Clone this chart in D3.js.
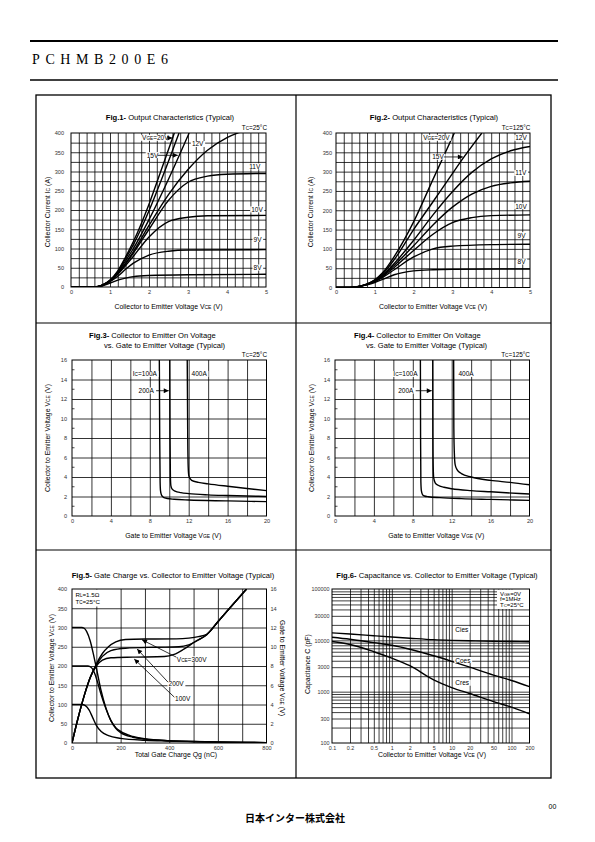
<!DOCTYPE html>
<html><head><meta charset="utf-8">
<script src="https://cdn.jsdelivr.net/npm/d3@7"></script>
<style>
body{margin:0;background:#fff}
svg{display:block}
</style>
</head><body>
<svg id="c" width="595" height="842" font-family="Liberation Sans, Arial, sans-serif"></svg>
<script>
// ---------------- DATA ----------------
// Fig.1 Output characteristics, Tc=25°C  [VCE (V), IC (A)]
const fig1_20V = [[0,0],[0.6,0],[0.8,5],[1.0,18],[1.2,42],[1.4,78],[1.6,118],[2.0,215],[2.3,300],[2.65,400]];
const fig1_18V = [[0,0],[0.6,0],[0.8,5],[1.0,17],[1.2,40],[1.4,74],[1.6,110],[2.0,198],[2.4,300],[2.77,400]];
const fig1_15V = [[0,0],[0.6,0],[0.8,5],[1.0,17],[1.2,38],[1.4,68],[1.6,100],[2.0,175],[2.5,280],[3.03,400]];
const fig1_12V = [[0,0],[0.6,0],[0.8,4],[1.0,16],[1.2,36],[1.4,62],[1.6,92],[2.0,160],[2.5,240],[3.0,305],[3.5,355],[4.0,388],[4.3,401],[5.0,420]];
const fig1_11V = [[0,0],[0.6,0],[0.8,4],[1.0,15],[1.2,35],[1.4,60],[1.6,88],[2.0,150],[2.5,225],[3.0,272],[3.5,288],[4.0,293],[5.0,295]];
const fig1_10V = [[0,0],[0.6,0],[0.8,4],[1.0,15],[1.2,33],[1.4,56],[1.6,80],[2.0,130],[2.5,170],[3.0,181],[3.5,185],[5.0,186]];
const fig1_9V  = [[0,0],[0.6,0],[0.8,4],[1.0,14],[1.2,28],[1.4,46],[1.6,62],[2.0,83],[2.5,93],[3.0,96],[5.0,97]];
const fig1_8V  = [[0,0],[0.6,0],[0.8,3],[1.0,10],[1.2,18],[1.4,23],[1.6,27],[2.0,30],[3.0,32],[5.0,33]];
// Fig.2 Output characteristics, Tc=125°C
const fig2_20V = [[0,0],[0.35,0],[0.6,3],[0.8,9],[1.0,20],[1.2,38],[1.5,80],[2.0,170],[2.5,280],[3.05,400]];
const fig2_15V = [[0,0],[0.35,0],[0.6,3],[0.8,9],[1.0,19],[1.2,35],[1.5,72],[2.0,150],[2.5,222],[3.0,295],[3.3,338],[3.76,400]];
const fig2_12V = [[0,0],[0.35,0],[0.6,3],[0.8,8],[1.0,18],[1.2,32],[1.5,62],[2.0,122],[2.5,188],[3.0,248],[3.5,298],[4.0,333],[4.5,354],[5.0,365]];
const fig2_11V = [[0,0],[0.35,0],[0.6,3],[0.8,8],[1.0,17],[1.2,30],[1.5,57],[2.0,108],[2.5,162],[3.0,208],[3.5,242],[4.0,262],[4.5,271],[5.0,275]];
const fig2_10V = [[0,0],[0.35,0],[0.6,3],[0.8,8],[1.0,16],[1.2,28],[1.5,52],[2.0,96],[2.5,138],[3.0,168],[3.5,181],[4.0,186],[5.0,188]];
const fig2_9V  = [[0,0],[0.35,0],[0.6,3],[0.8,8],[1.0,15],[1.2,26],[1.5,46],[2.0,79],[2.5,100],[3.0,107],[4.0,111],[5.0,112]];
const fig2_8V  = [[0,0],[0.35,0],[0.6,3],[0.8,7],[1.0,13],[1.2,21],[1.5,33],[2.0,43],[2.5,46],[3.0,47],[5.0,48]];
// Fig.3 VCE(sat) vs VGE, Tc=25°C  [VGE (V), VCE (V)]
const fig3_100A = [[8.98,16],[9.02,8],[9.06,3.5],[9.1,2.6],[9.2,2.15],[9.4,1.92],[9.8,1.8],[10.5,1.72],[12,1.64],[16,1.55],[20,1.47]];
const fig3_200A = [[10.05,16],[10.08,8],[10.12,4],[10.17,3.1],[10.3,2.75],[10.6,2.55],[11.2,2.4],[12,2.3],[14,2.17],[16,2.1],[20,2.0]];
const fig3_400A = [[11.85,16],[11.9,8],[11.95,5],[12.02,4.1],[12.3,3.65],[13,3.45],[14,3.3],[16,3.05],[18,2.82],[20,2.6]];
// Fig.4 VCE(sat) vs VGE, Tc=125°C
const fig4_100A = [[8.78,16],[8.8,8],[8.83,3.5],[8.88,2.6],[9.0,2.2],[9.2,2.05],[9.6,1.97],[10.8,1.88],[13,1.78],[16,1.7],[20,1.6]];
const fig4_200A = [[10.05,16],[10.07,8],[10.1,5],[10.15,3.9],[10.3,3.4],[10.6,3.15],[11.2,2.95],[12,2.8],[14,2.6],[16,2.48],[20,2.25]];
const fig4_400A = [[12.2,16],[12.22,9],[12.27,6.5],[12.35,5.3],[12.55,4.75],[13,4.35],[14,4.0],[16,3.65],[18,3.45],[20,3.2]];
// Fig.5 Gate charge [Qg (nC), VCE (V)] and [Qg (nC), VGE (V)]
const fig5_vce300 = [[0,300],[40,300],[50,298],[60,290],[75,265],[90,225],[105,180],[120,135],[140,90],[160,58],[180,38],[200,27],[250,15],[300,10],[400,6],[500,4],[650,2],[800,1]];
const fig5_vce200 = [[0,200],[65,200],[75,198],[85,192],[95,178],[105,158],[120,125],[140,88],[160,58],[180,40],[200,30],[250,17],[300,11],[400,6],[500,4],[800,1]];
const fig5_vce100 = [[0,100],[40,100],[55,97],[70,86],[85,66],[100,46],[120,30],[150,19],[200,12],[300,7],[400,5],[800,1]];
const fig5_vge100 = [[0,0],[25,2.6],[50,4.9],[75,6.8],[100,8.0],[125,8.6],[160,8.85],[250,8.92],[380,8.98],[420,9.2],[460,9.75],[510,10.6],[554,11.25],[600,12.6],[650,14.05],[718,16]];
const fig5_vge200 = [[0,0],[25,2.6],[50,4.9],[75,6.8],[100,8.1],[125,9.0],[160,9.6],[220,9.85],[350,9.95],[440,10.0],[480,10.2],[520,10.7],[554,11.25],[600,12.6],[650,14.05],[718,16]];
const fig5_vge300 = [[0,0],[25,2.6],[50,4.9],[75,6.8],[100,8.2],[125,9.3],[150,10.0],[180,10.5],[220,10.75],[300,10.8],[430,10.82],[480,10.9],[520,11.05],[554,11.3],[600,12.6],[650,14.05],[718,16]];
// Fig.6 Capacitance vs VCE
const fig6_vce  = [0.1,0.2,0.5,1,2,5,10,20,50,100,200];
const fig6_cies = [14000,13300,12300,11600,11000,10300,10000,9800,9600,9500,9400];
const fig6_coes = [11500,10500,9000,8000,6700,5000,3900,3000,2100,1650,1250];
const fig6_cres = [9500,8300,6000,4500,3200,1700,1200,920,640,500,370];
// Tick labels
const ticksF12x = [0,1,2,3,4,5];
const ticksF12y = [0,50,100,150,200,250,300,350,400];
const ticksF34x = [0,4,8,12,16,20];
const ticksF34y = [0,2,4,6,8,10,12,14,16];
const ticksF5x = [0,200,400,600,800];
const ticksF5yL = [0,50,100,150,200,250,300,350,400];
const ticksF5yR = [0,2,4,6,8,10,12,14,16];
const ticksF6x = [0.1,0.2,0.5,1,2,5,10,20,50,100,200];
const ticksF6y = [100,300,1000,3000,10000,30000,100000];

// ---------------- DRAWING ----------------
const FONT = 'Liberation Sans, Arial, sans-serif';
const svg = d3.select('#c');
const defs = svg.append('defs');
defs.append('marker').attr('id','ah').attr('viewBox','0 0 10 10').attr('refX',10).attr('refY',5)
  .attr('markerWidth',6).attr('markerHeight',5).attr('markerUnits','userSpaceOnUse').attr('orient','auto')
  .append('path').attr('d','M0,0L10,5L0,10z').attr('fill','#000');

function rtext(parent, x, y, parts, size, o={}) {
  const t = parent.append('text').attr('x',x).attr('y',y).attr('font-size',size)
    .attr('text-anchor',o.anchor||'start').attr('fill',o.fill||'#000')
    .attr('font-family', o.family || FONT);
  if (o.weight) t.attr('font-weight',o.weight);
  if (o.ls) t.attr('letter-spacing',o.ls);
  if (o.rotate) t.attr('transform',`rotate(${o.rotate},${x},${y})`);
  parts.forEach(p=>{
    const s = typeof p==='string'?[p,0]:p;
    const ts = t.append('tspan').text(s[0]);
    if (s[1]===1) ts.attr('font-size',size*0.72);
    if (s[1]===2) ts.attr('font-weight','bold');
  });
  if (o.bg) {
    const b = t.node().getBBox();
    parent.insert('rect',()=>t.node()).attr('x',b.x-1).attr('y',b.y+0.5).attr('width',b.width+2).attr('height',b.height-1).attr('fill','#fff');
  }
  return t;
}
function arrow(parent, x1,y1,x2,y2){
  parent.append('line').attr('x1',x1).attr('y1',y1).attr('x2',x2).attr('y2',y2)
    .attr('stroke','#000').attr('stroke-width',0.8).attr('marker-end','url(#ah)');
}

let clipN = 0;
function styleTicks(sel, size){
  sel.select('.domain').remove();
  sel.attr('font-size',size||5.6).attr('font-family',FONT);
  sel.selectAll('text').attr('fill','#333');
}
function panel(o) {
  const g = svg.append('g');
  const [x0,x1] = o.xs.range(); const [yb,yt] = o.ys.range();
  const gx = g.append('g').attr('transform',`translate(0,${yb})`)
    .call(d3.axisBottom(o.xs).tickValues(o.xGrid).tickSize(-(yb-yt)).tickFormat(''));
  gx.select('.domain').remove();
  gx.selectAll('line').attr('stroke','#000').attr('stroke-width',o.gw||0.8);
  const gy = g.append('g').attr('transform',`translate(${x0},0)`)
    .call(d3.axisLeft(o.ys).tickValues(o.yGrid).tickSize(-(x1-x0)).tickFormat(''));
  gy.select('.domain').remove();
  gy.selectAll('line').attr('stroke','#000').attr('stroke-width',o.gw||0.8);
  const lx = g.append('g').attr('transform',`translate(0,${yb})`)
    .call(d3.axisBottom(o.xs).tickValues(o.xTicks).tickSize(0).tickPadding(o.xPad||3).tickFormat(o.xFmt||(d=>d)));
  styleTicks(lx, o.ts);
  const ly = g.append('g').attr('transform',`translate(${x0},0)`)
    .call(d3.axisLeft(o.ys).tickValues(o.yTicks).tickSize(0).tickPadding(o.yPad||5).tickFormat(o.yFmt||(d=>d)));
  styleTicks(ly, o.ts);
  const id = 'clip'+(++clipN);
  defs.append('clipPath').attr('id',id).append('rect').attr('x',x0).attr('y',yt).attr('width',x1-x0).attr('height',yb-yt);
  const cg = svg.append('g').attr('clip-path',`url(#${id})`);
  const top = svg.append('g');
  top.append('rect').attr('x',x0).attr('y',yt).attr('width',x1-x0).attr('height',yb-yt)
    .attr('fill','none').attr('stroke','#000').attr('stroke-width',1);
  return {g, cg, top};
}
function range(a,b,s){const r=[];for(let v=a;v<=b+1e-9;v+=s)r.push(+v.toFixed(6));return r;}
function drawCurves(cg, xs, ys, series, sw){
  const line = d3.line().x(d=>xs(d[0])).y(d=>ys(d[1])).curve(d3.curveMonotoneX);
  cg.selectAll(null).data(series).join('path').attr('d',line)
    .attr('fill','none').attr('stroke','#000').attr('stroke-width',sw||1.4).attr('stroke-linejoin','round');
}

// ---- page header / frame ----
svg.append('line').attr('x1',30).attr('x2',558).attr('y1',41).attr('y2',41).attr('stroke','#000').attr('stroke-width',2);
rtext(svg, 32, 64, ['PCHMB200E6'], 14, {family:'Liberation Serif, DejaVu Serif, serif', ls:5.6});
svg.append('line').attr('x1',30).attr('x2',558).attr('y1',80).attr('y2',80).attr('stroke','#000').attr('stroke-width',1.6);
svg.append('rect').attr('x',36).attr('y',95).attr('width',515).attr('height',683).attr('fill','none').attr('stroke','#000').attr('stroke-width',1.3);
svg.append('line').attr('x1',296).attr('x2',296).attr('y1',95).attr('y2',778).attr('stroke','#000').attr('stroke-width',1.2);
svg.append('line').attr('x1',36).attr('x2',551).attr('y1',323).attr('y2',323).attr('stroke','#000').attr('stroke-width',1.2);
svg.append('line').attr('x1',36).attr('x2',551).attr('y1',550).attr('y2',550).attr('stroke','#000').attr('stroke-width',1.2);

const TS = 7.6, AS = 6.9, LS = 6.5;

// ---- Fig.1 ----
{
  const xs = d3.scaleLinear().domain([0,5]).range([71,266]);
  const ys = d3.scaleLinear().domain([0,400]).range([287,133]);
  const p = panel({xs, ys, xGrid:range(0.2,4.8,0.2), yGrid:range(25,375,25), xTicks:ticksF12x, yTicks:ticksF12y, yPad:7});
  drawCurves(p.cg, xs, ys, [fig1_20V,fig1_18V,fig1_15V,fig1_12V,fig1_11V,fig1_10V,fig1_9V,fig1_8V]);
  const t = p.top;
  rtext(t, xs(2.5), ys(387)+2.3, ['V',['GE',1],'=20V'], LS, {anchor:'end', bg:true});
  arrow(t, xs(2.52), ys(387), xs(2.6), ys(387));
  rtext(t, xs(1.94), ys(342)+2.3, ['15V'], LS, {bg:true});
  arrow(t, xs(2.22), ys(342), xs(2.74), ys(342));
  rtext(t, xs(3.1), ys(371)+2.3, ['12V'], LS, {bg:true});
  rtext(t, xs(4.57), ys(313)+2.3, ['11V'], LS, {bg:true});
  rtext(t, xs(4.62), ys(201)+2.3, ['10V'], LS, {bg:true});
  rtext(t, xs(4.68), ys(124)+2.3, ['9V'], LS, {bg:true});
  rtext(t, xs(4.68), ys(50)+2.3, ['8V'], LS, {bg:true});
  rtext(svg, 267, 129.5, ['T',['C',1],'=25°C'], 6.4, {anchor:'end'});
  rtext(svg, 170, 119.5, [['Fig.1-',2],' Output Characteristics (Typical)'], TS, {anchor:'middle'});
  rtext(svg, 168.5, 309, ['Collector to Emitter Voltage V',['CE',1],'  (V)'], AS, {anchor:'middle'});
  rtext(svg, 49.5, 212, ['Collector Current I',['C',1],'  (A)'], AS, {anchor:'middle', rotate:-90});
}
// ---- Fig.2 ----
{
  const xs = d3.scaleLinear().domain([0,5]).range([336,530]);
  const ys = d3.scaleLinear().domain([0,400]).range([287.5,133]);
  const p = panel({xs, ys, xGrid:range(0.2,4.8,0.2), yGrid:range(25,375,25), xTicks:ticksF12x, yTicks:ticksF12y, yPad:4});
  drawCurves(p.cg, xs, ys, [fig2_20V,fig2_15V,fig2_12V,fig2_11V,fig2_10V,fig2_9V,fig2_8V]);
  const t = p.top;
  rtext(t, xs(2.93), ys(387)+2.3, ['V',['GE',1],'=20V'], LS, {anchor:'end', bg:true});
  rtext(t, xs(2.48), ys(338)+2.3, ['15V'], LS, {bg:true});
  arrow(t, xs(2.78), ys(338), xs(3.27), ys(338));
  rtext(t, xs(4.62), ys(387)+2.3, ['12V'], LS, {bg:true});
  rtext(t, xs(4.62), ys(296)+2.3, ['11V'], LS, {bg:true});
  rtext(t, xs(4.62), ys(210)+2.3, ['10V'], LS, {bg:true});
  rtext(t, xs(4.68), ys(135)+2.3, ['9V'], LS, {bg:true});
  rtext(t, xs(4.68), ys(67)+2.3, ['8V'], LS, {bg:true});
  rtext(svg, 530.5, 129.5, ['T',['C',1],'=125°C'], 6.4, {anchor:'end'});
  rtext(svg, 434, 119.5, [['Fig.2-',2],' Output Characteristics (Typical)'], TS, {anchor:'middle'});
  rtext(svg, 433, 309, ['Collector to Emitter Voltage V',['CE',1],'  (V)'], AS, {anchor:'middle'});
  rtext(svg, 313, 212, ['Collector Current I',['C',1],'  (A)'], AS, {anchor:'middle', rotate:-90});
}
// ---- Fig.3 / Fig.4 ----
function vcePanel(xr, curves, lab, tc, titleX1, titleX2, ylabX){
  const xs = d3.scaleLinear().domain([0,20]).range(xr);
  const ys = d3.scaleLinear().domain([0,16]).range([516,360]);
  const p = panel({xs, ys, xGrid:range(2,18,2), yGrid:range(2,14,2), xTicks:ticksF34x, yTicks:ticksF34y, yPad:5});
  p.top.selectAll(null).data(range(1,15,2)).join('line')
    .attr('x1',xr[0]).attr('x2',xr[0]+2.5).attr('y1',d=>ys(d)).attr('y2',d=>ys(d)).attr('stroke','#000').attr('stroke-width',0.7);
  drawCurves(p.cg, xs, ys, curves);
  const t = p.top;
  rtext(t, xs(lab.i100), ys(14.55)+2.3, ['I',['C',1],'=100A'], LS, {bg:true});
  rtext(t, xs(lab.i400), ys(14.55)+2.3, ['400A'], LS, {bg:true});
  rtext(t, xs(lab.i200), ys(12.85)+2.3, ['200A'], LS, {bg:true});
  arrow(t, xs(lab.a0), ys(12.85), xs(lab.a1), ys(12.85));
  rtext(svg, xr[1]+0.5, 356.5, ['T',['C',1],tc], 6.4, {anchor:'end'});
  rtext(svg, titleX1, 337.5, [[lab.fig,2],'  Collector to Emitter On Voltage'], TS);
  rtext(svg, titleX2, 348, ['vs. Gate to Emitter Voltage  (Typical)'], TS);
  rtext(svg, (xr[0]+xr[1])/2+4, 537.5, ['Gate to Emitter Voltage V',['GE',1],'  (V)'], AS, {anchor:'middle'});
  rtext(svg, ylabX, 438, ['Collector to Emitter Voltage V',['CE',1],'  (V)'], AS, {anchor:'middle', rotate:-90});
}
vcePanel([72,266.5], [fig3_100A,fig3_200A,fig3_400A], {fig:'Fig.3-', i100:6.25, i400:12.3, i200:6.85, a0:8.65, a1:9.95}, '=25°C', 89, 104, 49.5);
vcePanel([335,529.5], [fig4_100A,fig4_200A,fig4_400A], {fig:'Fig.4-', i100:6.0, i400:12.7, i200:6.5, a0:8.3, a1:9.95}, '=125°C', 354, 366, 313.5);

// ---- Fig.5 ----
{
  const xs = d3.scaleLinear().domain([0,800]).range([72,266.5]);
  const ys = d3.scaleLinear().domain([0,400]).range([743,589]);
  const ys2 = d3.scaleLinear().domain([0,16]).range([743,589]);
  const p = panel({xs, ys, xGrid:range(100,700,100), yGrid:range(50,350,50), xTicks:ticksF5x, yTicks:ticksF5yL, yPad:5});
  const ry = p.g.append('g').attr('transform',`translate(266.5,0)`)
    .call(d3.axisRight(ys2).tickValues(ticksF5yR).tickSize(0).tickPadding(4));
  styleTicks(ry);
  p.cg.append('rect').attr('x',72.5).attr('y',589.5).attr('width',27).attr('height',17).attr('fill','#fff');
  drawCurves(p.cg, xs, ys, [fig5_vce300,fig5_vce200,fig5_vce100]);
  drawCurves(p.cg, xs, ys2, [fig5_vge100,fig5_vge200,fig5_vge300]);
  const t = p.top;
  rtext(t, 75.5, 596.5, ['R',['L',1],'=1.5Ω'], 6.2);
  rtext(t, 75.5, 604, ['T',['C',1],'=25°C'], 6.2);
  rtext(t, xs(431), ys(217)+2.3, ['V',['CE',1],'=300V'], LS, {bg:true});
  arrow(t, xs(429), ys(223), xs(288), ys(268));
  rtext(t, xs(397), ys(153)+2.3, ['200V'], LS, {bg:true});
  arrow(t, xs(395), ys(158), xs(268), ys(244));
  rtext(t, xs(424), ys(114)+2.3, ['100V'], LS, {bg:true});
  arrow(t, xs(421), ys(119), xs(256), ys(218));
  rtext(svg, 173, 577.5, [['Fig.5-',2],'  Gate Charge vs. Collector to Emitter Voltage  (Typical)'], TS, {anchor:'middle'});
  rtext(svg, 176, 756.5, ['Total Gate Charge Qg  (nC)'], AS, {anchor:'middle'});
  rtext(svg, 53.5, 668, ['Collector to Emitter Voltage V',['CE',1],'  (V)'], AS, {anchor:'middle', rotate:-90});
  rtext(svg, 279.5, 668, ['Gate to Emitter Voltage V',['GE',1],'  (V)'], AS, {anchor:'middle', rotate:90});
}
// ---- Fig.6 ----
{
  const xs = d3.scaleLog().domain([0.1,200]).range([332,529.5]);
  const ys = d3.scaleLog().domain([100,100000]).range([743,589]);
  const xg = []; [0.1,1,10,100].forEach(d=>{for(let m=1;m<=9;m++){const v=+(d*m).toPrecision(3); if(v>0.1&&v<200) xg.push(v);}});
  const yg = []; [100,1000,10000].forEach(d=>{for(let m=1;m<=9;m++){const v=d*m; if(v>100&&v<100000) yg.push(v);}});
  const p = panel({xs, ys, xGrid:xg, yGrid:yg, xTicks:ticksF6x, yTicks:ticksF6y, yPad:2.5, ts:5.4, gw:0.75, xFmt:d=>String(d), yFmt:d=>String(d)});
  p.cg.append('rect').attr('x',497).attr('y',589.5).attr('width',32).attr('height',19.5).attr('fill','#fff');
  const line = d3.line().x((d,i)=>xs(fig6_vce[i])).y(d=>ys(d)).curve(d3.curveMonotoneX);
  p.cg.selectAll(null).data([fig6_cies,fig6_coes,fig6_cres]).join('path').attr('d',line)
    .attr('fill','none').attr('stroke','#000').attr('stroke-width',1.4);
  const t = p.top;
  rtext(t, 500, 595.5, ['V',['GE',1],'=0V'], 6);
  rtext(t, 500, 601.3, ['f=1MHz'], 6);
  rtext(t, 500, 607, ['T',['C',1],'=25°C'], 6);
  rtext(t, xs(11.5), ys(16000)+2.3, ['Cies'], LS, {bg:true});
  rtext(t, xs(11.5), ys(4100)+2.3, ['Coes'], LS, {bg:true});
  rtext(t, xs(11.5), ys(1480)+2.3, ['Cres'], LS, {bg:true});
  rtext(svg, 437, 577.5, [['Fig.6-',2],' Capacitance vs. Collector to Emitter Voltage  (Typical)'], TS, {anchor:'middle'});
  rtext(svg, 432, 756.5, ['Collector to Emitter Voltage V',['CE',1],'  (V)'], AS, {anchor:'middle'});
  rtext(svg, 310, 664, ['Capacitance C  (pF)'], AS, {anchor:'middle', rotate:-90});
}
// ---- footer ----
rtext(svg, 552.5, 809, ['00'], 7, {anchor:'middle'});
rtext(svg, 295, 822, ['日本インター株式会社'], 10, {anchor:'middle', weight:'bold', family:'Noto Sans CJK JP, sans-serif'});
</script>
</body></html>
